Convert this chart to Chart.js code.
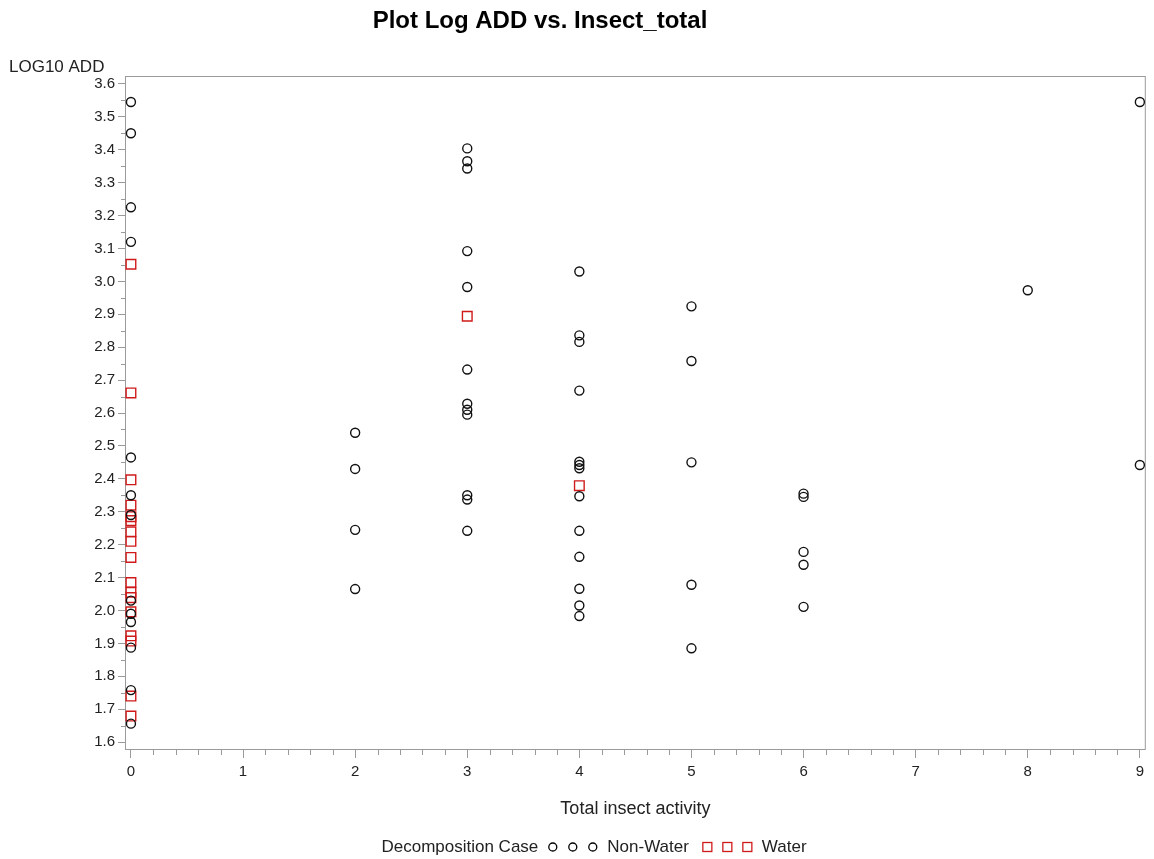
<!DOCTYPE html>
<html>
<head>
<meta charset="utf-8">
<title>Plot Log ADD vs. Insect_total</title>
<script src="https://cdn.jsdelivr.net/npm/chart.js@4.4.1/dist/chart.umd.min.js"></script>
<style>
    body { margin: 0; background: #fff; }
    #wrap { width: 1154px; height: 859px; }
</style>
</head>
<body>
<div id="wrap"><canvas id="myChart" width="1154" height="859"></canvas></div>
<script>
// Valores: Insect_total (x) y LOG10 ADD (y)
var nonWaterX = [0, 0, 0, 0, 0, 0, 0, 0, 0, 0, 0, 0, 0,
                 2, 2, 2, 2,
                 3, 3, 3, 3, 3, 3, 3, 3, 3, 3, 3, 3,
                 4, 4, 4, 4, 4, 4, 4, 4, 4, 4, 4, 4, 4,
                 5, 5, 5, 5, 5,
                 6, 6, 6, 6, 6,
                 8,
                 9, 9];
var nonWaterY = [3.545, 3.450, 3.225, 3.120, 2.465, 2.350, 2.290, 2.030, 1.990, 1.965, 1.887, 1.758, 1.656,
                 2.540, 2.430, 2.245, 2.065,
                 3.404, 3.365, 3.343, 3.092, 2.983, 2.732, 2.628, 2.610, 2.595, 2.350, 2.337, 2.242,
                 3.030, 2.836, 2.816, 2.668, 2.452, 2.442, 2.432, 2.347, 2.242, 2.163, 2.066, 2.015, 1.983,
                 2.924, 2.758, 2.450, 2.078, 1.885,
                 2.355, 2.345, 2.178, 2.139, 2.011,
                 2.973,
                 3.545, 2.442];
var waterX = [0, 0, 0, 0, 0, 0, 0, 0, 0, 0, 0, 0, 0, 0, 0, 0, 0,
              3,
              4];
var waterY = [3.052, 2.661, 2.397, 2.320, 2.285, 2.273, 2.239, 2.210, 2.161, 2.085, 2.055, 2.039, 1.996, 1.923, 1.907, 1.740, 1.679,
              2.894,
              2.379];

var xTicks = [0, 1, 2, 3, 4, 5, 6, 7, 8, 9];
var yTicks = [1.6, 1.7, 1.8, 1.9, 2.0, 2.1, 2.2, 2.3, 2.4, 2.5, 2.6, 2.7, 2.8, 2.9, 3.0, 3.1, 3.2, 3.3, 3.4, 3.5, 3.6];

var colorGris = '#9a9a9a';
var colorTexto = '#222';
var colorAgua = '#d01a1a';
var fuente = '"Liberation Sans", Arial, sans-serif';

function puntos(xs, ys) {
    return xs.map(function(x, i) { return { x: x, y: ys[i] }; });
}

// Marco, ticks menores y textos que Chart.js no coloca como SAS
var decoraciones = {
    id: 'decoraciones',
    beforeDatasetsDraw: function(chart) {
        var ctx = chart.ctx, a = chart.chartArea;
        var sx = chart.scales.x, sy = chart.scales.y;
        ctx.save();
        ctx.strokeStyle = colorGris;
        ctx.lineWidth = 1;
        ctx.strokeRect(a.left + 0.5, a.top + 0.5, a.right - a.left - 1, a.bottom - a.top - 1);

        ctx.beginPath();
        for (var i = 0; i < xTicks.length - 1; i++) {
            for (var k = 1; k < 5; k++) {
                var px = Math.round(sx.getPixelForValue(xTicks[i] + k * 0.2)) + 0.5;
                ctx.moveTo(px, a.bottom);
                ctx.lineTo(px, a.bottom + 5);
            }
        }
        for (var j = 0; j < yTicks.length - 1; j++) {
            var py = Math.round(sy.getPixelForValue(yTicks[j] + 0.05)) + 0.5;
            ctx.moveTo(a.left, py);
            ctx.lineTo(a.left - 4, py);
        }
        ctx.stroke();
        ctx.restore();
    },
    afterDraw: function(chart) {
        var ctx = chart.ctx, a = chart.chartArea;
        ctx.save();
        ctx.fillStyle = '#000';
        ctx.textBaseline = 'alphabetic';

        ctx.font = 'bold 24px ' + fuente;
        ctx.textAlign = 'center';
        ctx.fillText('Plot Log ADD vs. Insect_total', 540, 28);

        ctx.fillStyle = colorTexto;
        ctx.font = '17px ' + fuente;
        ctx.textAlign = 'left';
        ctx.fillText('LOG10 ADD', 9, 72);

        ctx.font = '18px ' + fuente;
        ctx.textAlign = 'center';
        ctx.fillText('Total insect activity', (a.left + a.right) / 2, 814);

        // Leyenda
        ctx.font = '17px ' + fuente;
        ctx.textAlign = 'left';
        var t1 = 'Decomposition Case', t2 = 'Non-Water', t3 = 'Water';
        var paso = 20, r = 4.5;
        var w = ctx.measureText(t1).width + 10 + paso * 2 + 2 * r + 10 +
                ctx.measureText(t2).width + 14 + paso * 2 + 2 * r + 10 +
                ctx.measureText(t3).width;
        var x = 594 - w / 2, y = 852;
        ctx.fillText(t1, x, y);
        x += ctx.measureText(t1).width + 10 + r;
        ctx.lineWidth = 1.3;
        ctx.strokeStyle = '#000';
        for (var i = 0; i < 3; i++) {
            ctx.beginPath();
            ctx.arc(x + i * paso, y - 5, r - 0.5, 0, Math.PI * 2);
            ctx.stroke();
        }
        x += paso * 2 + r + 10;
        ctx.fillText(t2, x, y);
        x += ctx.measureText(t2).width + 14 + r;
        ctx.strokeStyle = colorAgua;
        for (var k = 0; k < 3; k++) {
            ctx.strokeRect(x + k * paso - r, y - 5 - r, 2 * r, 2 * r);
        }
        x += paso * 2 + r + 10;
        ctx.fillText(t3, x, y);
        ctx.restore();
    }
};

var ctx = document.getElementById('myChart').getContext('2d');
var myChart = new Chart(ctx, {
    type: 'scatter',
    data: {
        datasets: [{
            label: 'Non-Water',
            data: puntos(nonWaterX, nonWaterY),
            pointStyle: 'circle',
            pointRadius: 4.5,
            borderColor: '#111',
            backgroundColor: 'rgba(0,0,0,0)',
            borderWidth: 1.4
        }, {
            label: 'Water',
            data: puntos(waterX, waterY),
            pointStyle: 'rect',
            pointRadius: 6.8,
            borderColor: colorAgua,
            backgroundColor: 'rgba(0,0,0,0)',
            borderWidth: 1.4
        }]
    },
    options: {
        responsive: false,
        animation: false,
        layout: { padding: { top: 76, right: 5, left: 0, bottom: 0 } },
        plugins: {
            legend: { display: false },
            title: { display: false },
            tooltip: { enabled: false }
        },
        scales: {
            x: {
                type: 'linear',
                min: -0.053,
                max: 9.053,
                afterBuildTicks: function(s) { s.ticks = xTicks.map(function(v) { return { value: v }; }); },
                afterFit: function(s) { s.height = 109; },
                ticks: {
                    autoSkip: false,
                    maxRotation: 0,
                    padding: 5,
                    color: colorTexto,
                    font: { family: fuente, size: 15 },
                    callback: function(v) { return String(v); }
                },
                grid: { drawOnChartArea: false, color: colorGris, tickLength: 8 },
                border: { display: false }
            },
            y: {
                type: 'linear',
                min: 1.576,
                max: 3.624,
                afterBuildTicks: function(s) { s.ticks = yTicks.map(function(v) { return { value: v }; }); },
                afterFit: function(s) { s.width = 125; },
                ticks: {
                    autoSkip: false,
                    padding: 3,
                    color: colorTexto,
                    font: { family: fuente, size: 15 },
                    callback: function(v) { return Number(v).toFixed(1); }
                },
                grid: { drawOnChartArea: false, color: colorGris, tickLength: 7 },
                border: { display: false }
            }
        }
    },
    plugins: [decoraciones]
});
</script>
</body>
</html>
